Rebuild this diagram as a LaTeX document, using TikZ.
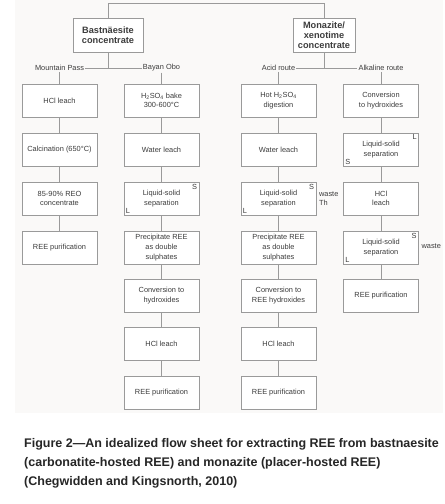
\documentclass[tikz,border=0pt]{standalone}
\usepackage{fontspec}
\setmainfont{Liberation Sans}
\definecolor{boxgray}{HTML}{9A9A9A}
\definecolor{txtgray}{HTML}{3C3C3C}
\definecolor{bggray}{HTML}{FAF9F8}
\tikzset{
  stage/.style={draw=boxgray, fill=white, line width=0.7pt, minimum width=75pt, minimum height=33pt,
    align=center, inner sep=1pt, text=txtgray, font=\fontsize{7.4}{9.6}\selectfont},
  head/.style={stage, minimum height=34pt, font=\bfseries\fontsize{9.2}{10.2}\selectfont},
  route/.style={text=txtgray, inner sep=1pt, font=\fontsize{7.4}{9.6}\selectfont},
  tag/.style={route, inner sep=2pt},
  flow/.style={draw=boxgray, line width=0.7pt}
}
\begin{document}
\begin{tikzpicture}[x=1pt,y=-1pt]
  \useasboundingbox (0,0) rectangle (445,504);
  \fill[bggray] (15,0) rectangle (443,413);
  % concentrates
  \node[head, minimum width=70pt] (bast) at (108,35) {Bastnäesite\\concentrate};
  \node[head, minimum width=62pt] (mona) at (324,35) {Monazite/\\xenotime\\concentrate};
  \coordinate (top) at (108,3);
  \draw[flow] (bast) -- (top) -| (mona);
  % routes
  \node[route] (mp) at (59.5,68) {Mountain Pass};
  \node[route] (bo) at (161.5,68) {Bayan Obo};
  \node[route] (acid) at (278.5,68) {Acid route};
  \node[route] (alk) at (381,68) {Alkaline route};
  \draw[flow] (mp) -- (bo) (acid) -- (alk);
  \draw[flow] (bast) -- (bast |- mp) (mona) -- (mona |- acid);
  % Mountain Pass
  \node[stage] (a1) at (59.5,100.5) {HCl leach};
  \node[stage] (a2) at (59.5,149.5) {Calcination (650°C)};
  \node[stage] (a3) at (59.5,198.5) {85-90\% REO\\concentrate};
  \node[stage] (a4) at (59.5,247.5) {REE purification};
  % Bayan Obo
  \node[stage] (b1) at (161.5,100.5) {H\textsubscript{2}SO\textsubscript{4} bake\\300-600°C};
  \node[stage] (b2) at (161.5,149.5) {Water leach};
  \node[stage] (b3) at (161.5,198.5) {Liquid-solid\\separation};
  \node[stage] (b4) at (161.5,247.5) {Precipitate REE\\as double\\sulphates};
  \node[stage] (b5) at (161.5,295.5) {Conversion to\\hydroxides};
  \node[stage] (b6) at (161.5,343.5) {HCl leach};
  \node[stage] (b7) at (161.5,392.5) {REE purification};
  % acid route
  \node[stage] (c1) at (278.5,100.5) {Hot H\textsubscript{2}SO\textsubscript{4}\\digestion};
  \node[stage] (c2) at (278.5,149.5) {Water leach};
  \node[stage] (c3) at (278.5,198.5) {Liquid-solid\\separation};
  \node[stage] (c4) at (278.5,247.5) {Precipitate REE\\as double\\sulphates};
  \node[stage] (c5) at (278.5,295.5) {Conversion to\\REE hydroxides};
  \node[stage] (c6) at (278.5,343.5) {HCl leach};
  \node[stage] (c7) at (278.5,392.5) {REE purification};
  % alkaline route
  \node[stage] (d1) at (381,100.5) {Conversion\\to hydroxides};
  \node[stage] (d2) at (381,149.5) {Liquid-solid\\separation};
  \node[stage] (d3) at (381,198.5) {HCl\\leach};
  \node[stage] (d4) at (381,247.5) {Liquid-solid\\separation};
  \node[stage] (d5) at (381,295.5) {REE purification};
  \foreach \u/\v in {mp/a1,a1/a2,a2/a3,a3/a4,bo/b1,b1/b2,b2/b3,b3/b4,b4/b5,b5/b6,b6/b7,
      acid/c1,c1/c2,c2/c3,c3/c4,c4/c5,c5/c6,c6/c7,alk/d1,d1/d2,d2/d3,d3/d4,d4/d5}
    \draw[flow] (\u) -- (\v);
  % solid / liquid
  \node[tag, anchor=north east] (b3s) at (b3.north east) {S};
  \node[tag, anchor=south west] (b3l) at (b3.south west) {L};
  \node[tag, anchor=north east] (c3s) at (c3.north east) {S};
  \node[tag, anchor=south west] (c3l) at (c3.south west) {L};
  \node[tag, anchor=north east] (d2l) at (d2.north east) {L};
  \node[tag, anchor=south west] (d2s) at (d2.south west) {S};
  \node[tag, anchor=north east] (d4s) at (d4.north east) {S};
  \node[tag, anchor=south west] (d4l) at (d4.south west) {L};
  \node[route, anchor=west, align=left] (c3w) at ([xshift=1.5pt]c3.east) {waste\\Th};
  \node[route, anchor=west] (d4w) at ([xshift=1.5pt,yshift=1pt]d4.east) {waste};
  % caption
  \node[anchor=base west, align=left, inner sep=0pt, text=black!85,
    font=\bfseries\fontsize{12.5}{19}\selectfont] (cap) at (24,485)
    {Figure 2—An idealized flow sheet for extracting REE from bastnaesite\\
     (carbonatite-hosted REE) and monazite (placer-hosted REE)\\
     (Chegwidden and Kingsnorth, 2010)};
\end{tikzpicture}
\end{document}
